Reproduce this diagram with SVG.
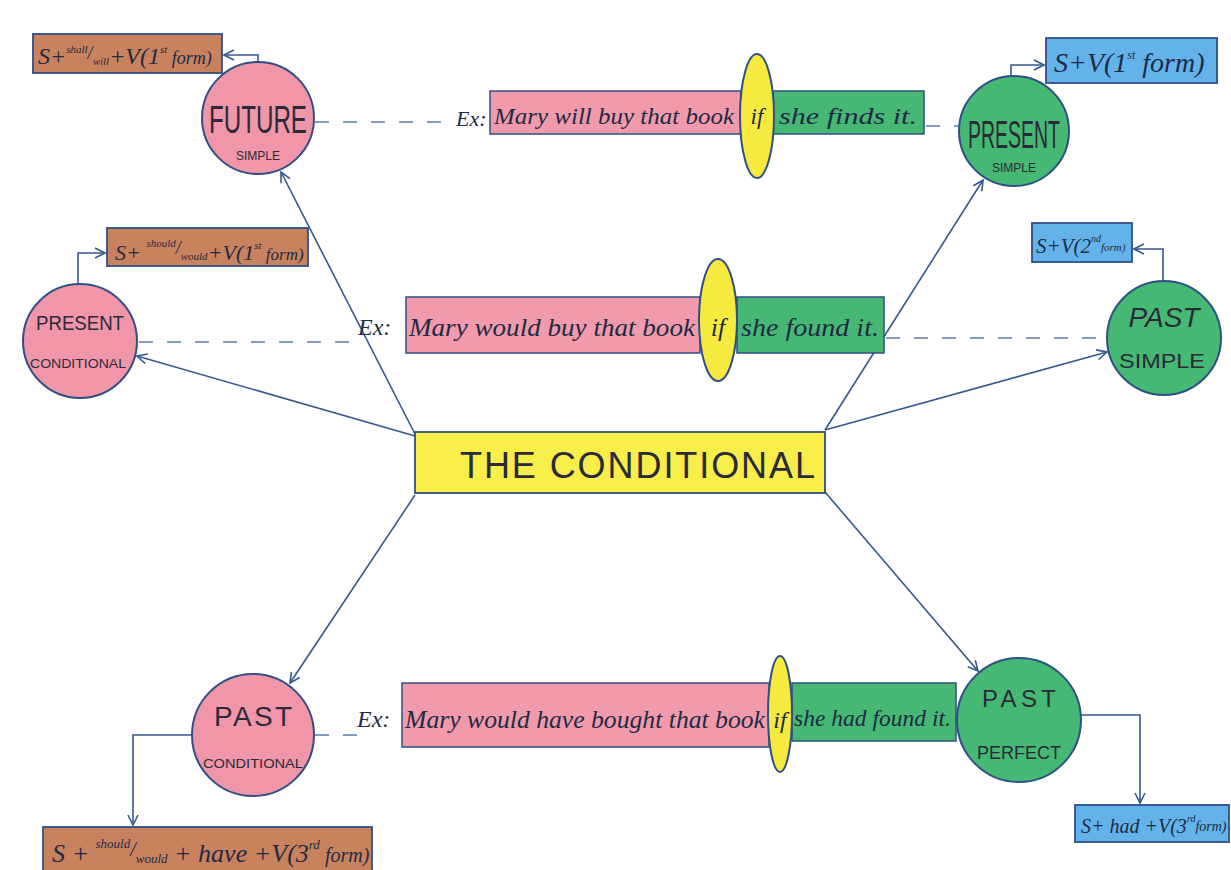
<svg xmlns="http://www.w3.org/2000/svg" width="1231" height="870" viewBox="0 0 1231 870">
<defs>
<marker id="arr" viewBox="0 0 12 12" refX="11" refY="6" markerWidth="12" markerHeight="12" markerUnits="userSpaceOnUse" orient="auto">
<path d="M1,1 L11,6 L1,11" fill="none" stroke="#34598f" stroke-width="1.6"/>
</marker>
</defs>
<style>
.bg{fill:#ffffff}
.pink{fill:#f096a8;stroke:#2f4f86;stroke-width:2}
.green{fill:#45b873;stroke:#2f4f86;stroke-width:2}
.brown{fill:#c8825e;stroke:#2f4f86;stroke-width:1.8}
.blue{fill:#63b3ea;stroke:#2f4f86;stroke-width:1.8}
.rbox{fill:#f09aab;stroke:#2f4f86;stroke-width:1.5}
.gbox{fill:#46b874;stroke:#2f4f86;stroke-width:1.5}
.yel{fill:#f6ea3e;stroke:#2f4f86;stroke-width:2}
.conn{fill:none;stroke:#34598f;stroke-width:1.6}
.dash{fill:none;stroke:#5a7cb0;stroke-width:1.4;stroke-dasharray:14 14}
.lbl{font-family:"Liberation Sans",Arial,sans-serif;fill:#2a2a3a;text-anchor:middle}
.cur{font-family:"Liberation Serif","Times New Roman",serif;font-style:italic;fill:#1f2a44}
.frm{font-family:"Liberation Serif","Times New Roman",serif;font-style:italic;fill:#1f2a44}
.ctr{font-family:"Liberation Sans",Arial,sans-serif;fill:#2a2a3a;font-size:36px}
</style>
<rect class="bg" x="0" y="0" width="1231" height="870"/>

<g id="connectors">
<line class="conn" x1="415" y1="434" x2="281" y2="172" marker-end="url(#arr)"/>
<line class="conn" x1="415" y1="436" x2="137" y2="356" marker-end="url(#arr)"/>
<line class="conn" x1="825" y1="430" x2="983" y2="180" marker-end="url(#arr)"/>
<line class="conn" x1="825" y1="430" x2="1107" y2="352" marker-end="url(#arr)"/>
<line class="conn" x1="415" y1="495" x2="290" y2="683" marker-end="url(#arr)"/>
<line class="conn" x1="825" y1="492" x2="978" y2="671" marker-end="url(#arr)"/>
<polyline class="conn" points="258,62 258,55 224,55" marker-end="url(#arr)"/>
<polyline class="conn" points="78,284 78,253 105,253" marker-end="url(#arr)"/>
<polyline class="conn" points="1011,76 1011,65 1044,65" marker-end="url(#arr)"/>
<polyline class="conn" points="1163,281 1163,249 1134,249" marker-end="url(#arr)"/>
<polyline class="conn" points="193,735 133,735 133,825" marker-end="url(#arr)"/>
<polyline class="conn" points="1080,715 1140,715 1140,803" marker-end="url(#arr)"/>
<line class="dash" x1="315" y1="122" x2="455" y2="122"/>
<line class="dash" x1="926" y1="126" x2="960" y2="126"/>
<line class="dash" x1="139" y1="342" x2="356" y2="342"/>
<line class="dash" x1="886" y1="338" x2="1106" y2="338"/>
<line class="dash" x1="315" y1="735" x2="357" y2="735"/>
</g>

<g id="center">
<rect x="415" y="432" width="410" height="61" fill="#f7ee4a" stroke="#2f4f86" stroke-width="1.8"/>
<text class="ctr" x="460" y="478" textLength="355" lengthAdjust="spacing">THE  CONDITIONAL</text>
</g>

<g id="future-simple">
<circle class="pink" cx="258" cy="118" r="56"/>
<text class="lbl" x="258" y="133" font-size="38" textLength="98" lengthAdjust="spacingAndGlyphs">FUTURE</text>
<text class="lbl" x="258" y="160" font-size="12">SIMPLE</text>
</g>

<g id="future-formula">
<rect class="brown" x="33" y="34" width="189" height="39"/>
<text class="frm" x="38" y="64" font-size="24">S+<tspan font-size="11" dy="-11">shall</tspan><tspan font-size="18" dy="6">/</tspan><tspan font-size="11" dy="6">will</tspan><tspan dy="-1">+V(1</tspan><tspan font-size="11" dy="-11">st</tspan><tspan font-size="18" dy="11"> form)</tspan></text>
</g>

<g id="present-simple">
<circle class="green" cx="1014" cy="131" r="55"/>
<text class="lbl" x="1014" y="148" font-size="38" textLength="92" lengthAdjust="spacingAndGlyphs">PRESENT</text>
<text class="lbl" x="1014" y="172" font-size="12">SIMPLE</text>
</g>

<g id="present-simple-formula">
<rect class="blue" x="1046" y="38" width="171" height="45"/>
<text class="frm" x="1054" y="72" font-size="28">S+V(1<tspan font-size="12" dy="-13">st</tspan><tspan dy="13"> form)</tspan></text>
</g>

<g id="present-conditional">
<circle class="pink" cx="80" cy="341" r="57"/>
<text class="lbl" x="80" y="330" font-size="20" textLength="88" lengthAdjust="spacingAndGlyphs">PRESENT</text>
<text class="lbl" x="78" y="368" font-size="13" textLength="96" lengthAdjust="spacingAndGlyphs">CONDITIONAL</text>
</g>

<g id="present-conditional-formula">
<rect class="brown" x="107" y="228" width="201" height="38"/>
<text class="frm" x="115" y="260" font-size="22">S+ <tspan font-size="11" dy="-13">should</tspan><tspan font-size="18" dy="7">/</tspan><tspan font-size="11" dy="6">would</tspan><tspan dy="0">+V(1</tspan><tspan font-size="11" dy="-11">st</tspan><tspan font-size="17" dy="11"> form)</tspan></text>
</g>

<g id="past-simple">
<circle class="green" cx="1164" cy="338" r="57"/>
<text class="lbl" x="1164" y="327" font-size="28" font-style="italic">PAST</text>
<text class="lbl" x="1162" y="368" font-size="20" textLength="86" lengthAdjust="spacingAndGlyphs">SIMPLE</text>
</g>

<g id="past-simple-formula">
<rect class="blue" x="1032" y="223" width="100" height="39"/>
<text class="frm" x="1036" y="253" font-size="21">S+V(2<tspan font-size="10" dy="-11">nd</tspan><tspan font-size="11" dy="9">form)</tspan></text>
</g>

<g id="past-conditional">
<circle class="pink" cx="253" cy="735" r="61"/>
<text class="lbl" x="253" y="726" font-size="28" textLength="78" lengthAdjust="spacing">PAST</text>
<text class="lbl" x="253" y="768" font-size="13" textLength="100" lengthAdjust="spacingAndGlyphs">CONDITIONAL</text>
</g>

<g id="past-conditional-formula">
<rect class="brown" x="43" y="827" width="329" height="46"/>
<text class="frm" x="52" y="862" font-size="26">S + <tspan font-size="13" dy="-14">should</tspan><tspan font-size="20" dy="8">/</tspan><tspan font-size="13" dy="7">would</tspan><tspan dy="-1"> + have +V(3</tspan><tspan font-size="13" dy="-13">rd</tspan><tspan font-size="20" dy="13"> form)</tspan></text>
</g>

<g id="past-perfect">
<circle class="green" cx="1019" cy="720" r="62"/>
<text class="lbl" x="1019" y="707" font-size="24" textLength="74" lengthAdjust="spacing">PAST</text>
<text class="lbl" x="1019" y="759" font-size="18" textLength="84" lengthAdjust="spacingAndGlyphs">PERFECT</text>
</g>

<g id="past-perfect-formula">
<rect class="blue" x="1075" y="805" width="154" height="37"/>
<text class="frm" x="1081" y="833" font-size="20">S+ had +V(3<tspan font-size="10" dy="-11">rd</tspan><tspan font-size="14" dy="9">form)</tspan></text>
</g>

<g id="example-future">
<text class="cur" x="456" y="126" font-size="22">Ex:</text>
<rect class="rbox" x="490" y="91" width="251" height="43"/>
<rect class="gbox" x="773" y="91" width="151" height="43"/>
<ellipse class="yel" cx="757" cy="116" rx="17" ry="62"/>
<text class="cur" x="494" y="124" font-size="23" textLength="240" lengthAdjust="spacingAndGlyphs">Mary will buy that book</text>
<text class="cur" x="757" y="124" font-size="23" text-anchor="middle">if</text>
<text class="cur" x="779" y="124" font-size="23" textLength="138" lengthAdjust="spacingAndGlyphs">she finds it.</text>
</g>

<g id="example-present-conditional">
<text class="cur" x="358" y="335" font-size="24">Ex:</text>
<rect class="rbox" x="406" y="297" width="294" height="56"/>
<rect class="gbox" x="737" y="297" width="147" height="56"/>
<ellipse class="yel" cx="718" cy="320" rx="19" ry="61"/>
<text class="cur" x="409" y="336" font-size="26" textLength="286" lengthAdjust="spacingAndGlyphs">Mary would buy that book</text>
<text class="cur" x="718" y="336" font-size="26" text-anchor="middle">if</text>
<text class="cur" x="741" y="336" font-size="26" textLength="138" lengthAdjust="spacingAndGlyphs">she found it.</text>
</g>

<g id="example-past-conditional">
<text class="cur" x="357" y="727" font-size="24">Ex:</text>
<rect class="rbox" x="402" y="683" width="367" height="64"/>
<rect class="gbox" x="792" y="683" width="164" height="58"/>
<ellipse class="yel" cx="780" cy="714" rx="12" ry="58"/>
<text class="cur" x="405" y="728" font-size="26" textLength="360" lengthAdjust="spacingAndGlyphs">Mary would have bought that book</text>
<text class="cur" x="780" y="728" font-size="24" text-anchor="middle">if</text>
<text class="cur" x="794" y="726" font-size="24" textLength="157" lengthAdjust="spacingAndGlyphs">she had found it.</text>
</g>
</svg>
